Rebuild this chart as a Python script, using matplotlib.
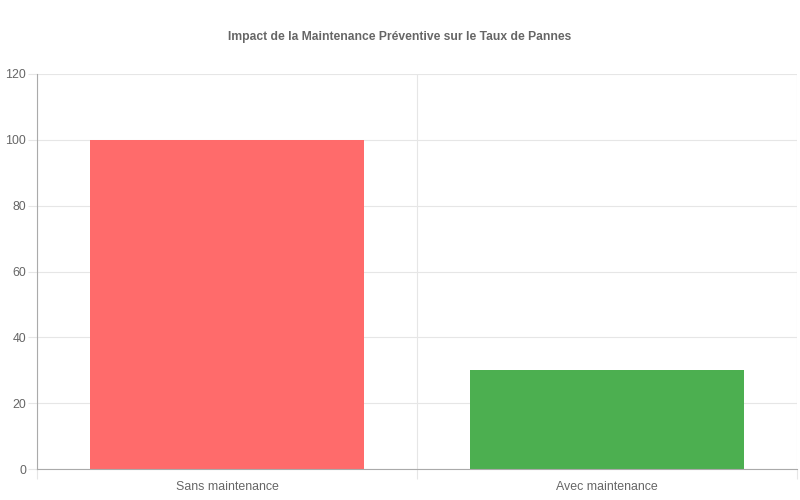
import matplotlib
matplotlib.use('Agg')
import matplotlib.pyplot as plt
import numpy as np

categories = ['Sans maintenance', 'Avec maintenance']
taux_pannes = [100, 30]
colors = ['#ff6b6b', '#4caf50']
y_ticks = [0, 20, 40, 60, 80, 100, 120]

plt.rcParams['font.family'] = ['Liberation Sans', 'DejaVu Sans']

fig = plt.figure(figsize=(8, 5), dpi=100)
ax = fig.add_axes([37/800, 31/500, 760/800, 395/500])

x = np.arange(len(categories))
ax.bar(x, taux_pannes, width=0.72, color=colors, zorder=3)

ax.set_xlim(-0.5, len(categories) - 0.5)
ax.set_ylim(0, 120)
ax.set_yticks(y_ticks)
ax.set_xticks(x)
ax.set_xticklabels(categories)
ax.set_xticks(np.arange(len(categories) + 1) - 0.5, minor=True)

grid_c = '#e6e6e6'
ax.grid(axis='y', which='major', color=grid_c, linewidth=0.8, zorder=0)
ax.grid(axis='x', which='minor', color=grid_c, linewidth=0.8, zorder=0)
ax.tick_params(axis='y', length=6.5, width=0.8, color=grid_c, labelcolor='#666666', labelsize=8.9, pad=1.5)
ax.tick_params(axis='x', which='major', length=0, labelcolor='#666666', labelsize=8.9, pad=9)
ax.tick_params(axis='x', which='minor', length=7.2, width=0.8, color=grid_c)

for s in ['top', 'right']:
    ax.spines[s].set_visible(False)
for s in ['left', 'bottom']:
    ax.spines[s].set_color('#aaaaaa')
    ax.spines[s].set_linewidth(0.8)
    ax.spines[s].set_zorder(4)

fig.text(0.5, 1 - 37/500, 'Impact de la Maintenance Préventive sur le Taux de Pannes',
         ha='center', va='center', fontsize=8.7, fontweight='bold', color='#666666')

fig.savefig('out.png', dpi=100)
